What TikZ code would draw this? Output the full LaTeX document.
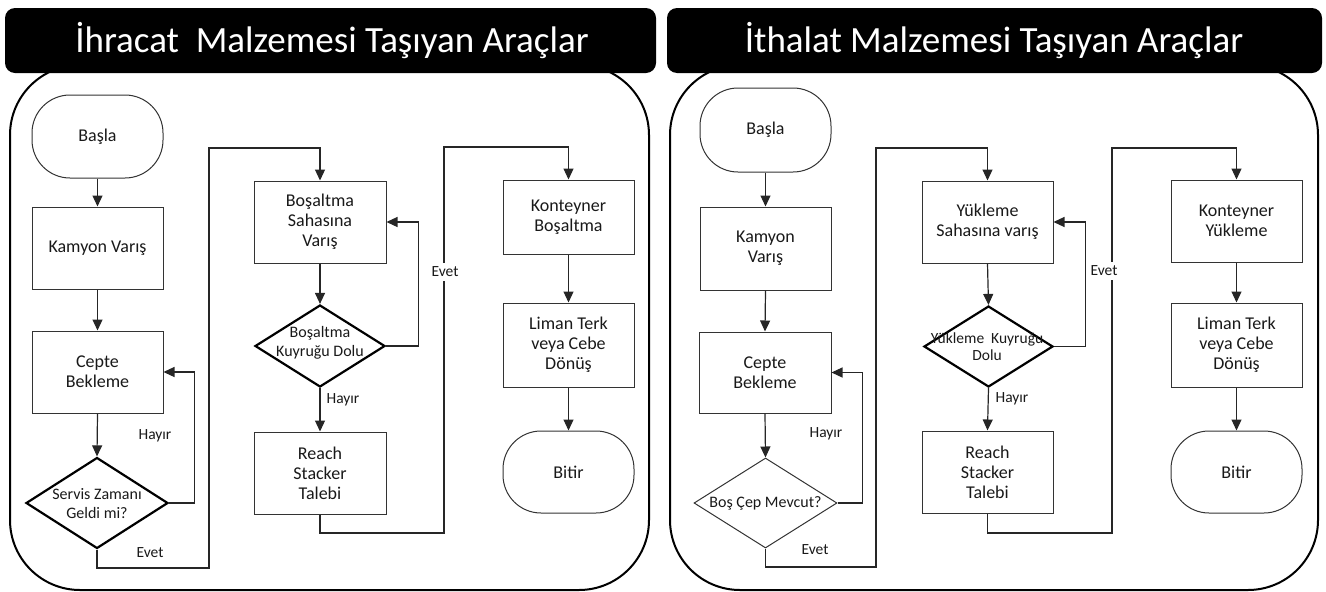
\documentclass[tikz,border=0pt]{standalone}
\usepackage{fontspec}
\setmainfont{Carlito}
\usetikzlibrary{arrows.meta,shapes.geometric}
\begin{document}
\begin{tikzpicture}[x=1pt,y=-1pt,
  box/.style={draw=black!80,line width=1pt,rectangle,inner sep=0pt,minimum width=131pt,minimum height=82pt,align=center,text=black!90,font=\fontsize{18}{20}\selectfont},
  term/.style={box,rounded corners=38pt},
  dia/.style={draw=black,line width=2.2pt,diamond,inner sep=0pt},
  thindia/.style={draw=black!80,line width=1pt,diamond,inner sep=0pt},
  dtext/.style={align=center,text=black!90,font=\fontsize{16}{19}\selectfont},
  arr/.style={draw=black!85,line width=1.2pt,-{Triangle[length=11pt,width=10pt]}},
  lbl/.style={text=black!90,font=\fontsize{15.5}{16}\selectfont,inner sep=1pt},
  frame/.style={draw=black,line width=2pt,rounded corners=70pt},
  header/.style={fill=black,rounded corners=10pt},
  title/.style={text=white,font=\fontsize{37}{40}\selectfont}
]
\useasboundingbox (0,0) rectangle (1326,592);
% frames
\draw[frame] (10,65) rectangle (649,590);
\draw[frame] (670,65) rectangle (1318,590);
\fill[header] (5,8) rectangle (656,73);
\fill[header] (667,8) rectangle (1322,73);
\node[title] (t1) at (332,41) {İhracat\ \ Malzemesi Taşıyan Araçlar};
\node[title] (t2) at (994,41) {İthalat Malzemesi Taşıyan Araçlar};

% ---------- left panel ----------
\node[term,minimum height=83pt] (basla1) at (97.5,136.5) {Başla};
\node[box] (kam1) at (97.5,248) {Kamyon Varış};
\node[box] (cep1) at (97.5,372) {Cepte\\Bekleme};
\node[dia,minimum width=142pt,minimum height=91pt] (d1) at (97,503) {};
\node[dtext] (d1t) at (97,503.5) {Servis Zamanı\\Geldi mi?};
\node[box,minimum width=132pt] (bos1) at (320,222) {Boşaltma\\Sahasına\\Varış};
\node[dia,minimum width=130pt,minimum height=82pt] (dq1) at (320,346) {};
\node[dtext] (dq1t) at (320,343) {Boşaltma\\Kuyruğu Dolu};
\node[box,minimum width=132pt] (rs1) at (320,473) {Reach\\Stacker\\Talebi};
\node[box,minimum height=74pt] (kon1) at (568.5,217) {Konteyner\\Boşaltma};
\node[box,minimum height=84pt] (lim1) at (568.5,345) {Liman Terk\\veya Cebe\\Dönüş};
\node[term] (bit1) at (568.5,472) {Bitir};

\draw[arr] (basla1.south) -- (kam1.north);
\draw[arr] (kam1.south) -- (cep1.north);
\draw[arr] (cep1.south) -- (d1.north);
\draw[arr] (d1.east) -- ++(25,0) |- (cep1.east);
\node[lbl] (h1) at (155,436) {Hayır};
\coordinate (e1a) at (209,568);
\coordinate (e1b) at (209,148);
\draw[arr] (d1.south) |- (e1a) -- (e1b) -| (bos1.north);
\node[lbl] (ev1) at (150,553) {Evet};
\draw[arr] (bos1.south) -- (dq1.north);
\draw[arr] (dq1.east) -- ++(32,0) |- (bos1.east);
\draw[arr] (dq1.south) -- (rs1.north);
\node[lbl] (h2) at (343,400) {Hayır};
\coordinate (e2a) at (444,533);
\coordinate (e2b) at (444,147);
\draw[arr] (rs1.south) |- (e2a) -- (e2b) -| (kon1.north);
\node[lbl,fill=white,inner ysep=4pt] (ev2) at (445,272) {Evet};
\draw[arr] (kon1.south) -- (lim1.north);
\draw[arr] (lim1.south) -- (bit1.north);

% ---------- right panel ----------
\node[term,minimum height=84pt] (basla2) at (765.5,130) {Başla};
\node[box,minimum height=83pt] (kam2) at (765.5,248.5) {Kamyon\\Varış};
\node[box,minimum width=132pt,minimum height=81pt] (cep2) at (765,372.5) {Cepte\\Bekleme};
\node[thindia,minimum width=143pt,minimum height=90pt] (d2) at (765.5,503) {};
\node[dtext] (d2t) at (765.5,503) {Boş Çep Mevcut?};
\node[box] (yuk2) at (987.5,222) {Yükleme\\Sahasına varış};
\node[dia,minimum width=129pt,minimum height=81pt] (dq2) at (988.5,346.5) {};
\node[dtext,font=\fontsize{15.5}{17}\selectfont] (dq2t) at (987,346.5) {Yükleme\ \ Kuyruğu\\Dolu};
\node[box] (rs2) at (987.5,472) {Reach\\Stacker\\Talebi};
\node[box] (kon2) at (1236.5,221) {Konteyner\\Yükleme};
\node[box,minimum height=84pt] (lim2) at (1236.5,345) {Liman Terk\\veya Cebe\\Dönüş};
\node[term] (bit2) at (1236.5,472) {Bitir};

\draw[arr] (basla2.south) -- (kam2.north);
\draw[arr] (kam2.south) -- (cep2.north);
\draw[arr] (cep2.south) -- (d2.north);
\draw[arr] (d2.east) -- ++(25,0) |- (cep2.east);
\node[lbl] (h3) at (826,434) {Hayır};
\coordinate (e3a) at (876,567);
\coordinate (e3b) at (876,148);
\draw[arr] (d2.south) |- (e3a) -- (e3b) -| (yuk2.north);
\node[lbl] (ev3) at (815,550) {Evet};
\draw[arr] (yuk2.south) -- (dq2.north);
\draw[arr] (dq2.east) -- ++(31,0) |- (yuk2.east);
\draw[arr] (dq2.south) -- (rs2.north);
\node[lbl] (h4) at (1012,399) {Hayır};
\coordinate (e4a) at (1112,533);
\coordinate (e4b) at (1112,148);
\draw[arr] (rs2.south) |- (e4a) -- (e4b) -| (kon2.north);
\node[lbl,fill=white,inner ysep=4pt] (ev4) at (1104,271) {Evet};
\draw[arr] (kon2.south) -- (lim2.north);
\draw[arr] (lim2.south) -- (bit2.north);
\end{tikzpicture}
\end{document}
